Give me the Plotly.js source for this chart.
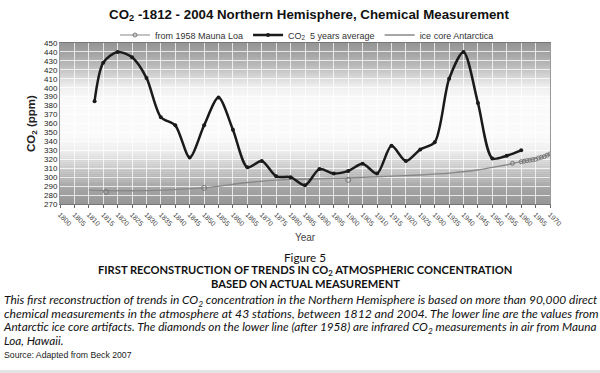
<!DOCTYPE html>
<html>
<head>
<meta charset="utf-8">
<script src="https://cdn.plot.ly/plotly-3.0.1.min.js"></script>
<style>
  html, body { margin: 0; padding: 0; background: #ffffff; }
  #chart { width: 600px; height: 373px; }
</style>
</head>
<body>
<div id="chart"></div>
<script>
// ---- data ----
const avgYears = [1812, 1815, 1820, 1825, 1830, 1835, 1840, 1845, 1850, 1855, 1860, 1865, 1870, 1875, 1880, 1885, 1890, 1895, 1900, 1905, 1910, 1915, 1920, 1925, 1930, 1935, 1940, 1945, 1950, 1955, 1960];
const avgCO2 = [385, 428, 440, 434, 411, 367, 358, 322, 358, 389, 353, 311, 318, 301, 300, 291, 309, 304, 307, 315, 304, 335, 318, 331, 339, 410, 440, 383, 321, 324, 330];

const iceYears = [1810, 1816, 1830, 1850, 1865, 1880, 1900, 1910, 1925, 1935, 1945, 1950, 1957];
const iceCO2 = [285.5, 285, 285, 288, 294, 297.5, 299, 300.5, 302.5, 304.5, 308, 311, 315];

const iceSampleYears = [1816, 1850, 1900];
const iceSampleCO2 = [283.5, 288, 297];

const mlYears = [1957, 1960, 1961, 1962, 1963, 1964, 1965, 1966, 1967, 1968, 1969, 1970];
const mlCO2 = [315.5, 317.3, 317.8, 318.5, 319, 319.6, 320, 321.4, 322.2, 323, 324.6, 326];

const xTickStart = 1800, xTickEnd = 1970, xTickStep = 5;
const yMin = 270, yMax = 450, yStep = 10;

const titleText = 'CO<sub>2</sub> -1812 - 2004 Northern Hemisphere, Chemical Measurement';
const captionFigure = 'Figure 5';
const captionHead1 = 'FIRST RECONSTRUCTION OF TRENDS IN CO<sub>2</sub> ATMOSPHERIC CONCENTRATION';
const captionHead2 = 'BASED ON ACTUAL MEASUREMENT';
const captionLines = [
  'This first reconstruction of trends in CO<sub>2</sub> concentration in the Northern Hemisphere is based on more than 90,000 direct',
  'chemical measurements in the atmosphere at 43 stations, between 1812 and 2004. The lower line are the values from',
  'Antarctic ice core artifacts. The diamonds on the lower line (after 1958) are infrared CO<sub>2</sub> measurements in air from Mauna',
  'Loa, Hawaii.'
];
const sourceText = 'Source: Adapted from Beck 2007';

// ---- layout helpers (pixel -> paper) ----
const W = 600, H = 373;
const M = { l: 60, r: 50, t: 43, b: 169 };
const plotH = H - M.t - M.b;
const plotW = W - M.l - M.r;
const py = p => (H - M.b - p) / plotH;
const px = p => (p - M.l) / plotW;

// text-fitting helper (sizes a caption line to a pixel width)
const ctx = document.createElement('canvas').getContext('2d');
function fitSize(text, family, style, target) {
  const base = 20;
  ctx.font = `${style} ${base}px ${family}`;
  const plain = text.replace(/<[^>]+>/g, '');
  return base * target / ctx.measureText(plain).width;
}

// vertical grey gradient of the plot background (style only)
const stops = [[0, 150], [0.08, 162], [0.18, 185], [0.26, 212], [0.33, 238], [0.42, 250], [0.65, 250], [0.73, 238], [0.8, 210], [0.88, 180], [0.95, 160], [1, 148]];
function greyAt(t) {
  for (let i = 1; i < stops.length; i++) {
    if (t <= stops[i][0]) {
      const a = stops[i - 1], b = stops[i];
      const f = (t - a[0]) / (b[0] - a[0]);
      return Math.round(a[1] + f * (b[1] - a[1]));
    }
  }
  return stops[stops.length - 1][1];
}
const shapes = [];
const nBands = 80;
for (let i = 0; i < nBands; i++) {
  const g = greyAt((i + 0.5) / nBands);
  shapes.push({
    type: 'rect', xref: 'paper', yref: 'paper', layer: 'below',
    x0: 0, x1: 1, y0: i / nBands, y1: (i + 1) / nBands + 0.002,
    fillcolor: `rgb(${g},${g},${g})`, line: { width: 0 }
  });
}
// thin grey strip at the bottom of the page
shapes.push({
  type: 'rect', xref: 'paper', yref: 'paper', layer: 'below',
  x0: px(0), x1: px(W), y0: py(373), y1: py(370),
  fillcolor: '#e4e4e4', line: { width: 0 }
});

const traces = [
  {
    name: 'ice core Antarctica', x: iceYears, y: iceCO2, type: 'scatter', mode: 'lines',
    line: { color: '#888888', width: 1.4, shape: 'spline', smoothing: 0.6 },
    legendrank: 3
  },
  {
    name: 'ice core samples', x: iceSampleYears, y: iceSampleCO2, type: 'scatter', mode: 'markers',
    marker: { color: '#777', size: 5, symbol: 'circle-open', line: { width: 1, color: '#777' } },
    showlegend: false
  },
  {
    name: 'from 1958 Mauna Loa', x: mlYears, y: mlCO2, type: 'scatter', mode: 'lines+markers',
    line: { color: '#888888', width: 1.2 },
    marker: { color: '#777', size: 4, symbol: 'circle-open', line: { width: 1, color: '#777' } },
    legendrank: 1
  },
  {
    name: 'CO<sub>2</sub>  5 years average', x: avgYears, y: avgCO2, type: 'scatter', mode: 'lines+markers',
    line: { color: '#1a1a1a', width: 2.5, shape: 'spline', smoothing: 0.8 },
    marker: { color: '#1a1a1a', size: 4 },
    legendrank: 2
  }
];

const capFamily = "Lato, 'Open Sans', 'DejaVu Sans', sans-serif";
const headSize = fitSize(captionHead1, capFamily, 'bold', 418);
const annotations = [
  { text: captionFigure, x: 0.5, xanchor: 'center', y: py(256.5), font: { family: capFamily, size: headSize * 1.05, color: '#111' } },
  { text: '<b>' + captionHead1 + '</b>', x: 0.5, xanchor: 'center', y: py(270), font: { family: capFamily, size: headSize, color: '#111' } },
  { text: '<b>' + captionHead2 + '</b>', x: 0.5, xanchor: 'center', y: py(283), font: { family: capFamily, size: headSize, color: '#111' } }
].map(a => Object.assign({ xref: 'paper', yref: 'paper', yanchor: 'middle', showarrow: false }, a));

// paragraph: one multi-line text, each line sized to the full width (justified look)
const lineGap = 13.6;
let lastSize = 11;
const paraHtml = captionLines.map((t, i) => {
  const size = i < captionLines.length - 1 ? fitSize(t, capFamily, 'italic', 596) : lastSize;
  lastSize = size;
  return `<span style="font-size:${size.toFixed(2)}px">${t}</span>`;
}).join('<br>');
annotations.push({
  text: '<i>' + paraHtml + '</i>', xref: 'paper', yref: 'paper',
  x: px(1), y: py(289.5), xanchor: 'left', yanchor: 'top', align: 'left', showarrow: false,
  font: { family: capFamily, size: lineGap / 1.3, color: '#111' }
});
annotations.push({
  text: sourceText, xref: 'paper', yref: 'paper',
  x: px(2), y: py(355), xanchor: 'left', yanchor: 'middle', showarrow: false,
  font: { family: "'Liberation Sans', Arial, sans-serif", size: 8.7, color: '#222' }
});

const layout = {
  width: W, height: H,
  margin: M,
  paper_bgcolor: '#ffffff',
  plot_bgcolor: 'rgba(0,0,0,0)',
  font: { family: "'Liberation Sans', Arial, sans-serif", color: '#222' },
  title: {
    text: '<b>' + titleText + '</b>',
    x: px(309), xref: 'paper', xanchor: 'center',
    y: 1 - 14 / H, yref: 'container', yanchor: 'middle',
    font: { size: 13.3, color: '#111' }
  },
  showlegend: true,
  legend: {
    orientation: 'h', x: px(307), xanchor: 'center', y: 1 + (M.t - 35) / plotH, yanchor: 'middle',
    font: { size: 9, color: '#333' }, bgcolor: 'rgba(0,0,0,0)',
    itemwidth: 30
  },
  xaxis: {
    range: [xTickStart, xTickEnd], tick0: xTickStart, dtick: xTickStep,
    tickangle: 45, tickfont: { size: 7, color: '#444' },
    ticks: 'outside', ticklen: 3, tickcolor: '#666',
    showgrid: true, gridcolor: 'rgba(255,255,255,0.75)', gridwidth: 1,
    showline: true, linecolor: '#777', linewidth: 1, mirror: true,
    zeroline: false,
    title: { text: 'Year', font: { size: 10, color: '#444' }, standoff: 7 }
  },
  yaxis: {
    range: [yMin, yMax], tick0: yMin, dtick: yStep,
    tickfont: { size: 8, color: '#222' },
    ticks: '', showgrid: true, gridcolor: 'rgba(255,255,255,0.75)', gridwidth: 1,
    showline: true, linecolor: '#999', linewidth: 1, mirror: true,
    zeroline: false,
    title: { text: '<b>CO<sub>2</sub> (ppm)</b>', font: { size: 11.5, color: '#222' }, standoff: 6 }
  },
  shapes: shapes,
  annotations: annotations
};

Plotly.newPlot('chart', traces, layout, { displayModeBar: false, staticPlot: true });
</script>
</body>
</html>
